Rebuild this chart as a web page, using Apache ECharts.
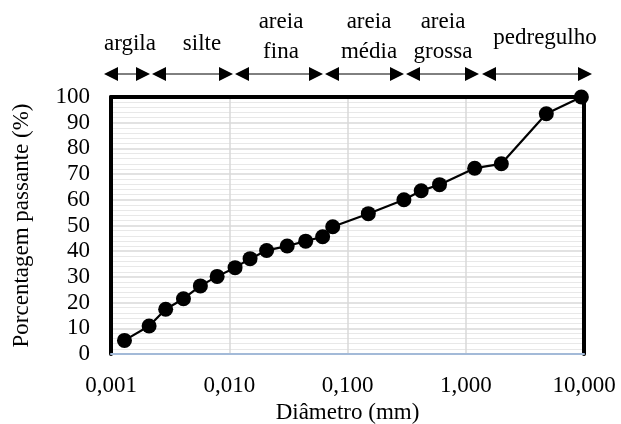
<!DOCTYPE html>
<html>
<head>
<meta charset="utf-8">
<script src="https://cdn.jsdelivr.net/npm/echarts@6/dist/echarts.min.js"></script>
<style>
html,body{margin:0;padding:0;background:#fff;}
#chart{width:621px;height:424px;}
</style>
</head>
<body>
<div id="chart"></div>
<script>
// Diameters (mm) and percentage passing
var diameters = [0.0013, 0.0021, 0.0029, 0.0041, 0.0057, 0.0079, 0.0112, 0.0150, 0.0207, 0.0309, 0.0443, 0.0616, 0.075, 0.15, 0.30, 0.42, 0.60, 1.19, 2.0, 4.8, 9.5];
var passing   = [5.3, 10.9, 17.4, 21.5, 26.5, 30.2, 33.6, 37.1, 40.3, 42.0, 43.9, 45.6, 49.5, 54.6, 60.0, 63.5, 65.9, 72.3, 74.0, 93.5, 100.0];
var yTicks = [0, 10, 20, 30, 40, 50, 60, 70, 80, 90, 100];
var xTickLabels = ['0,001', '0,010', '0,100', '1,000', '10,000'];
var classLabels = [['argila'], ['silte'], ['areia', 'fina'], ['areia', 'média'], ['areia', 'grossa'], ['pedregulho']];

var FONT = '"Liberation Serif", "Times New Roman", serif';
var chart = echarts.init(document.getElementById('chart'));

var seriesData = diameters.map(function (d, i) { return [d, passing[i]]; });

// annotation layout (pixel positions of the class arrows / labels)
var arrowSpans = [[104, 150], [152, 233], [235, 323], [325, 404], [406, 479], [482, 592]];
var labelX = [130, 202, 281, 369, 443, 545];
var arrowY = 74;

var graphics = [];
arrowSpans.forEach(function (s) {
  var a = s[0], b = s[1], h = 14, w = 7;
  graphics.push({ type: 'line', shape: { x1: a + 4, y1: arrowY, x2: b - 4, y2: arrowY }, style: { stroke: '#000', lineWidth: 1 } });
  graphics.push({ type: 'polygon', shape: { points: [[a, arrowY], [a + h, arrowY - w], [a + h, arrowY + w]] }, style: { fill: '#000' } });
  graphics.push({ type: 'polygon', shape: { points: [[b, arrowY], [b - h, arrowY - w], [b - h, arrowY + w]] }, style: { fill: '#000' } });
});
classLabels.forEach(function (lines, i) {
  if (lines.length === 1) {
    graphics.push({ type: 'text', x: labelX[i], y: (i === 5 ? 38 : 44), style: { text: lines[0], font: '23px ' + FONT, fill: '#000', align: 'center', verticalAlign: 'middle' } });
  } else {
    graphics.push({ type: 'text', x: labelX[i], y: 22, style: { text: lines[0], font: '23px ' + FONT, fill: '#000', align: 'center', verticalAlign: 'middle' } });
    graphics.push({ type: 'text', x: labelX[i], y: 52, style: { text: lines[1], font: '23px ' + FONT, fill: '#000', align: 'center', verticalAlign: 'middle' } });
  }
});

function fmtX(v) {
  var e = Math.round(Math.log10(v));
  return xTickLabels[e + 3] || v.toFixed(3).replace('.', ',');
}

var option = {
  animation: false,
  backgroundColor: '#fff',
  textStyle: { fontFamily: FONT },
  grid: { left: 111, right: 37, top: 97, bottom: 70, containLabel: false, outerBoundsMode: 'none' },
  xAxis: [{
    type: 'log', logBase: 10, min: 0.001, max: 10,
    name: 'Diâmetro (mm)', nameLocation: 'middle', nameGap: 41,
    nameTextStyle: { fontSize: 23, color: '#000', fontFamily: FONT },
    axisLine: { show: true, onZero: false, lineStyle: { color: '#a3bad8', width: 2 } },
    axisTick: { show: false },
    axisLabel: { fontSize: 23, color: '#000', fontFamily: FONT, margin: 20, formatter: fmtX },
    splitLine: { show: true, lineStyle: { color: '#d9d9d9', width: 1.5 } },
    minorTick: { show: false },
    minorSplitLine: { show: false }
  }, {
    type: 'log', logBase: 10, min: 0.001, max: 10, position: 'top',
    axisLine: { show: true, onZero: false, lineStyle: { color: '#000', width: 4 } },
    axisTick: { show: false }, axisLabel: { show: false }, splitLine: { show: false }
  }],
  yAxis: [{
    type: 'value', min: 0, max: 100, interval: 10,
    name: 'Porcentagem passante (%)', nameLocation: 'middle', nameGap: 78,
    nameTextStyle: { fontSize: 23, color: '#000', fontFamily: FONT },
    axisLine: { show: true, onZero: false, lineStyle: { color: '#000', width: 4 } },
    axisTick: { show: false },
    axisLabel: { fontSize: 23, color: '#000', fontFamily: FONT, margin: 21 },
    splitLine: { show: true, lineStyle: { color: '#d9d9d9', width: 1.5 } },
    minorTick: { show: true, splitNumber: 5, length: 0, lineStyle: { width: 0 } },
    minorSplitLine: { show: true, lineStyle: { color: '#e8e8e8', width: 1 } }
  }, {
    type: 'value', min: 0, max: 100, interval: 10, position: 'right',
    axisLine: { show: true, onZero: false, lineStyle: { color: '#000', width: 4 } },
    axisTick: { show: false }, axisLabel: { show: false }, splitLine: { show: false }
  }],
  series: [{
    type: 'line',
    data: seriesData,
    xAxisIndex: 0, yAxisIndex: 0,
    symbol: 'circle', symbolSize: 15,
    itemStyle: { color: '#000' },
    lineStyle: { color: '#000', width: 2.2 },
    z: 5
  }],
  graphic: graphics
};
chart.setOption(option);
</script>
</body>
</html>
